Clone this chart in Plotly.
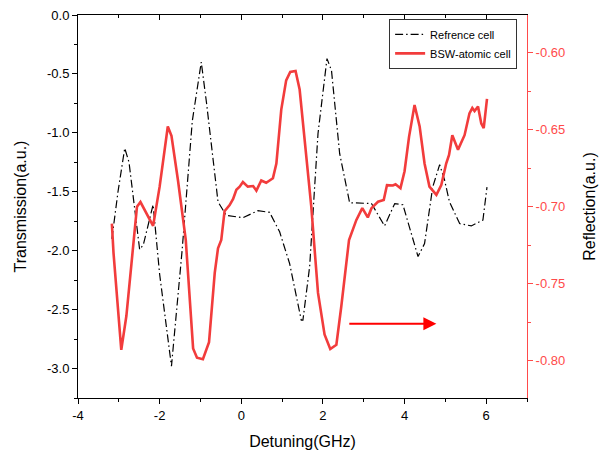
import plotly.graph_objects as go

ref_x = [-3.17, -3.02, -2.855, -2.75, -2.49, -2.40, -2.16, -2.0, -1.71, -1.45, -1.2, -0.98, -0.85, -0.57, -0.37, 0.04, 0.41, 0.695, 0.94, 1.185, 1.47, 1.51, 1.675, 1.88, 2.10, 2.21, 2.41, 2.655, 3.19, 3.51, 3.76, 3.96, 4.33, 4.49, 4.69, 4.86, 4.98, 5.10, 5.35, 5.635, 5.92, 6.02]
ref_y = [-1.90, -1.50, -1.13, -1.25, -1.99, -1.95, -1.61, -2.20, -2.98, -2.00, -0.90, -0.40, -0.75, -1.585, -1.70, -1.72, -1.66, -1.675, -1.84, -2.11, -2.59, -2.59, -2.135, -1.005, -0.37, -0.47, -1.175, -1.593, -1.60, -1.79, -1.60, -1.61, -2.05, -1.94, -1.46, -1.27, -1.40, -1.585, -1.77, -1.79, -1.74, -1.46]

bsw_x = [-3.17, -3.13, -2.94, -2.815, -2.69, -2.555, -2.47, -2.16, -2.0, -1.80, -1.71, -1.55, -1.36, -1.18, -1.085, -0.94, -0.79, -0.65, -0.57, -0.49, -0.41, -0.285, -0.20, -0.12, -0.04, 0.04, 0.16, 0.29, 0.37, 0.49, 0.61, 0.775, 0.86, 0.98, 1.10, 1.20, 1.33, 1.43, 1.715, 1.88, 2.04, 2.18, 2.33, 2.45, 2.64, 2.82, 2.965, 3.10, 3.19, 3.35, 3.49, 3.57, 3.715, 3.78, 3.90, 4.00, 4.11, 4.245, 4.37, 4.49, 4.61, 4.78, 4.90, 5.02, 5.09, 5.17, 5.31, 5.47, 5.59, 5.66, 5.715, 5.80, 5.88, 5.94, 6.02]
bsw_y = [-0.711, -0.730, -0.793, -0.771, -0.737, -0.700, -0.697, -0.7125, -0.687, -0.648, -0.654, -0.683, -0.7216, -0.792, -0.798, -0.799, -0.788, -0.743, -0.727, -0.7216, -0.703, -0.699, -0.695, -0.689, -0.687, -0.684, -0.687, -0.6866, -0.6896, -0.683, -0.6845, -0.6816, -0.672, -0.637, -0.618, -0.6126, -0.612, -0.624, -0.700, -0.756, -0.783, -0.7924, -0.7896, -0.7648, -0.7216, -0.7086, -0.701, -0.707, -0.701, -0.6968, -0.6957, -0.686, -0.6863, -0.6855, -0.688, -0.677, -0.6547, -0.634, -0.648, -0.672, -0.687, -0.6924, -0.686, -0.672, -0.6665, -0.6536, -0.663, -0.6536, -0.6395, -0.636, -0.638, -0.635, -0.646, -0.649, -0.630]

x_ticks = [-4, -2, 0, 2, 4, 6]
y_ticks = [0.0, -0.5, -1.0, -1.5, -2.0, -2.5, -3.0]
y2_ticks = [-0.60, -0.65, -0.70, -0.75, -0.80]

arrow_x = [2.61, 4.78]
arrow_y = -0.776

RED = '#f23c3c'
AXRED = '#ff4a4a'
FONT = 'Liberation Sans, Arial, sans-serif'

fig = go.Figure()
fig.add_trace(go.Scatter(x=ref_x, y=ref_y, mode='lines', name='Refrence cell',
                         line=dict(color='black', width=1.2, dash='8px,3px,1.5px,3px'),
                         yaxis='y'))
fig.add_trace(go.Scatter(x=bsw_x, y=bsw_y, mode='lines', name='BSW-atomic cell',
                         line=dict(color=RED, width=2.6), yaxis='y2'))
# empty trace so the top (inside-tick) axis gets drawn
fig.add_trace(go.Scatter(x=[None], y=[None], xaxis='x2', yaxis='y', mode='lines',
                         showlegend=False, hoverinfo='skip'))

fig.add_annotation(x=arrow_x[1], y=arrow_y, ax=arrow_x[0], ay=arrow_y,
                   xref='x', yref='y2', axref='x', ayref='y2',
                   showarrow=True, arrowhead=2, arrowsize=1.3, arrowwidth=2,
                   arrowcolor='#ff0000', text='')

fig.update_layout(
    width=610, height=470,
    margin=dict(l=70, r=91, t=7, b=80),
    plot_bgcolor='white', paper_bgcolor='white',
    font=dict(family=FONT, size=13, color='black'),
    showlegend=True,
    legend=dict(x=0.978, y=0.99, xanchor='right', yanchor='top',
                bordercolor='#333333', borderwidth=1, bgcolor='white',
                font=dict(size=11, family=FONT), tracegroupgap=0,
                itemwidth=30),
    xaxis=dict(range=[-4, 7], tickvals=x_ticks, ticktext=[str(v) for v in x_ticks],
               showline=True, linecolor='black', linewidth=1, mirror=True,
               ticks='outside', ticklen=5, tickcolor='black', automargin=False,
               minor=dict(dtick=1, tick0=-3, ticks='outside', ticklen=3, tickcolor='black'),
               showgrid=False, zeroline=False,
               title=dict(text='Detuning(GHz)', font=dict(size=16), standoff=14),
               tickfont=dict(size=13)),
    xaxis2=dict(range=[-4, 7], overlaying='x', side='top', anchor='y',
                tickvals=x_ticks, showticklabels=False, ticks='inside', ticklen=5,
                tickcolor='black', showline=False, showgrid=False, zeroline=False,
                automargin=False,
                minor=dict(dtick=1, tick0=-3, ticks='inside', ticklen=3, tickcolor='black')),
    yaxis=dict(range=[-3.25, 0], tickvals=y_ticks, ticktext=['%.1f' % v for v in y_ticks],
               showline=True, linecolor='black', linewidth=1, automargin=False,
               ticks='outside', ticklen=5, tickcolor='black', ticklabeloverflow='allow',
               minor=dict(dtick=0.25, tick0=0, ticks='outside', ticklen=3, tickcolor='black'),
               showgrid=False, zeroline=False,
               title=dict(text='Transmission(a.u.)', font=dict(size=16), standoff=16),
               tickfont=dict(size=13)),
    yaxis2=dict(range=[-0.8242, -0.5756], overlaying='y', side='right', anchor='x',
                tickvals=y2_ticks, ticktext=['%.2f' % v for v in y2_ticks],
                showline=True, linecolor=AXRED, linewidth=1, automargin=False,
                ticks='outside', ticklen=5, tickcolor=AXRED,
                minor=dict(dtick=0.025, tick0=-0.6, ticks='outside', ticklen=3, tickcolor=AXRED),
                showgrid=False, zeroline=False,
                tickfont=dict(size=13, color=AXRED),
                title=dict(text='Reflection(a.u.)', font=dict(size=16, color='black'), standoff=19)),
)

fig.write_html('out.html')
